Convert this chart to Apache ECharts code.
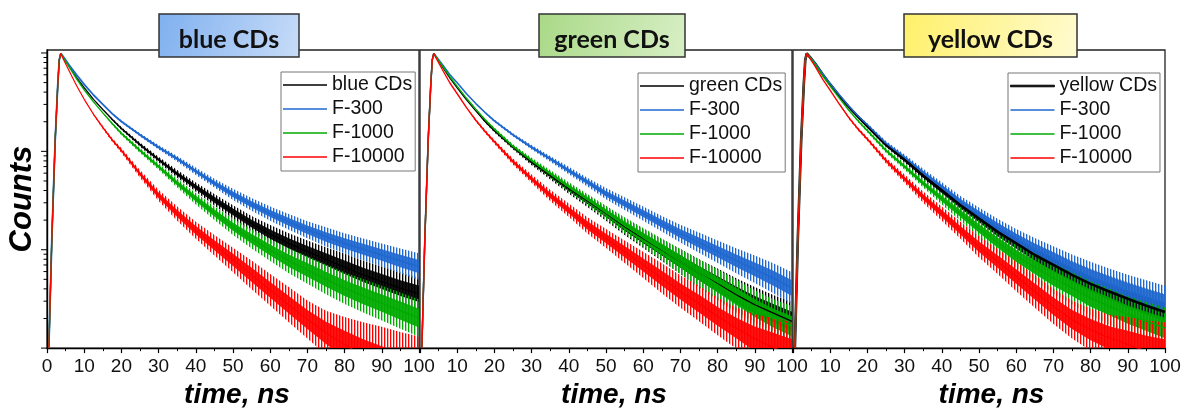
<!DOCTYPE html>
<html><head><meta charset="utf-8">
<script src="https://cdn.jsdelivr.net/npm/echarts@6/dist/echarts.min.js"></script>
<style>html,body{margin:0;padding:0;background:#fff}#c{width:1184px;height:414px}</style>
</head><body><div id="c"></div>
<script>
// time axis (ns)
const time = [0.5,1.3,2.2,2.9,3.3,3.7,4.5,6,8,10,12.5,15,17.5,20,25,30,35,40,45,50,55,60,65,70,75,80,85,90,95,100];
const xTicks = [0,10,20,30,40,50,60,70,80,90,100];

// panel 1: blue CDs (counts)
const p1_ref    = [1,13,130,480,850,990, 890,728,559,443,338,266,212,171,117,82.4,59.0,43.3,32.2,24.2,18.4,14.4,11.6,9.55,7.99,6.63,5.55,4.75,4.07,3.56];
const p1_F300   = [1,13,130,480,850,990, 904,751,595,479,374,301,242,201,147,110,84,62.8,47.5,36.5,28.9,23.3,19.2,16.0,13.5,11.6,10.1,8.84,7.68,6.73];
const p1_F1000  = [1,13,130,480,850,990, 883,717,542,423,318,246,192,152,102,70.0,47.5,33.0,23.6,17.1,12.9,9.93,7.74,6.24,5.01,4.07,3.40,2.87,2.40,2.02];
const p1_F10000 = [1,13,130,480,850,990, 850,653,461,338,238,175,131,102,59.0,35.7,23.3,15.8,11.1,7.87,5.55,3.91,2.76,1.95,1.43,1.09,0.83,0.66,0.52,0.41];
// panel 2: green CDs
const p2_ref    = [1,13,130,480,850,990, 890,728,559,443,333,258,201,162,110,77.5,56.8,41.7,31.3,23.3,17.1,13.0,9.93,7.57,5.77,4.50,3.48,2.76,2.27,1.87];
const p2_F300   = [1,13,130,480,850,990, 904,763,604,498,385,306,248,204,147,110,84,63.8,48.7,37.1,29.4,23.3,18.4,14.6,11.8,9.55,7.74,6.33,5.13,4.07];
const p2_F1000  = [1,13,130,480,850,990, 890,739,577,457,346,268,210,168,112,80.5,59.0,43.3,32.2,23.8,17.7,13.3,10.1,7.57,5.77,4.40,3.35,2.55,2.02,1.67];
const p2_F10000 = [1,13,130,480,850,990, 863,679,498,385,278,207,159,125,78.7,52.6,35.7,25.2,17.7,13.0,9.55,7.00,5.13,3.76,2.83,2.10,1.60,1.24,1.01,0.83];
// panel 3: yellow CDs
const p3_ref    = [1,13,130,480,850,990, 912,775,604,479,365,283,224,180,116,82,56.4,40.1,28.3,20.7,15.2,11.6,8.84,7.00,5.55,4.50,3.76,3.17,2.70,2.33];
const p3_F300   = [1,13,130,480,850,990, 919,787,614,487,374,289,229,186,121,87,60.9,43.3,30.5,22.8,17.1,13.0,10.2,8.17,6.48,5.34,4.50,3.82,3.30,2.87];
const p3_F1000  = [1,13,130,480,850,990, 904,763,586,461,346,262,204,162,102,70.0,47.5,33.0,23.3,16.4,11.8,8.64,6.63,5.13,4.07,3.22,2.66,2.19,1.87,1.60];
const p3_F10000 = [1,13,130,480,850,990, 890,728,538,417,301,220,168,133,80.5,52.6,34.3,23.3,15.8,10.7,7.57,5.34,3.76,2.66,1.95,1.54,1.27,1.09,0.93,0.83];

// noise spread (ratio of upper envelope to curve)
const n1_ref    = [1,1,1,1,1,1,1,1,1,1,1,1,1.025,1.035,1.05,1.07,1.095,1.115,1.145,1.17,1.2,1.24,1.27,1.3,1.33,1.37,1.4,1.42,1.45,1.47];
const n1_F300   = [1,1,1,1,1,1,1,1,1,1,1,1,1.02,1.03,1.04,1.055,1.07,1.09,1.11,1.14,1.16,1.18,1.2,1.22,1.25,1.27,1.29,1.31,1.34,1.37];
const n1_F1000  = [1,1,1,1,1,1,1,1,1,1,1,1,1.03,1.04,1.06,1.08,1.11,1.145,1.175,1.21,1.25,1.29,1.34,1.38,1.42,1.45,1.48,1.5,1.53,1.55];
const n1_F10000 = [1,1,1,1,1,1,1,1,1,1,1.02,1.035,1.045,1.06,1.095,1.14,1.18,1.22,1.27,1.33,1.4,1.45,1.51,1.56,1.68,1.9,2.2,2.5,2.8,3.2];
const n2_ref    = [1,1,1,1,1,1,1,1,1,1,1,1,1.03,1.04,1.055,1.075,1.1,1.125,1.15,1.18,1.21,1.25,1.29,1.34,1.39,1.43,1.47,1.51,1.53,1.57];
const n2_F300   = [1,1,1,1,1,1,1,1,1,1,1,1,1.02,1.03,1.04,1.055,1.07,1.09,1.11,1.14,1.16,1.18,1.2,1.23,1.27,1.3,1.34,1.38,1.42,1.45];
const n2_F1000  = [1,1,1,1,1,1,1,1,1,1,1,1,1.03,1.04,1.055,1.07,1.095,1.12,1.145,1.175,1.21,1.25,1.29,1.34,1.39,1.43,1.48,1.52,1.55,1.6];
const n2_F10000 = [1,1,1,1,1,1,1,1,1,1,1,1.03,1.04,1.05,1.075,1.105,1.14,1.17,1.21,1.25,1.3,1.36,1.42,1.46,1.51,1.55,1.62,1.78,2.0,2.2];
const n3_ref    = [1,1,1,1,1,1,1,1,1,1,1,1,1.025,1.035,1.05,1.07,1.1,1.13,1.16,1.19,1.23,1.27,1.31,1.36,1.4,1.43,1.46,1.49,1.51,1.53];
const n3_F300   = [1,1,1,1,1,1,1,1,1,1,1,1,1.02,1.035,1.05,1.065,1.09,1.12,1.15,1.18,1.21,1.25,1.29,1.33,1.38,1.41,1.43,1.46,1.48,1.5];
const n3_F1000  = [1,1,1,1,1,1,1,1,1,1,1,1,1.03,1.04,1.06,1.08,1.11,1.145,1.18,1.22,1.27,1.32,1.37,1.42,1.45,1.49,1.52,1.54,1.57,1.62];
const n3_F10000 = [1,1,1,1,1,1,1,1,1,1,1,1.03,1.04,1.045,1.07,1.105,1.14,1.18,1.22,1.28,1.34,1.41,1.46,1.51,1.56,1.64,1.72,1.9,2.05,2.2];

const yMajorTicks = [1,10,100,1000];
const yMinorTicks = [2,3,4,5,6,7,8,9,20,30,40,50,60,70,80,90,200,300,400,500,600,700,800,900];

const titles = ['blue CDs','green CDs','yellow CDs'];
const seriesNames = [
  ['blue CDs','F-300','F-1000','F-10000'],
  ['green CDs','F-300','F-1000','F-10000'],
  ['yellow CDs','F-300','F-1000','F-10000']
];
const panelValues = [[p1_ref,p1_F300,p1_F1000,p1_F10000],[p2_ref,p2_F300,p2_F1000,p2_F10000],[p3_ref,p3_F300,p3_F1000,p3_F10000]];
const panelNoise  = [[n1_ref,n1_F300,n1_F1000,n1_F10000],[n2_ref,n2_F300,n2_F1000,n2_F10000],[n3_ref,n3_F300,n3_F1000,n3_F10000]];

const colors = ['#000000','#1f68cf','#00aa00','#ff0000'];
const lineWidths = [[1.3,1.8,1.4,1.2],[1.3,1.6,1.4,1.4],[2.6,1.4,1.4,1.4]];

const gridLefts = [47,420,793];
const FONT = 'Liberation Sans, Arial, sans-serif';

// fine vertical hatch used to suggest the spiky photon-counting noise
function noisePattern(color) {
  const c = document.createElement('canvas');
  c.width = 3; c.height = 1;
  const ctx = c.getContext('2d');
  ctx.fillStyle = color;
  ctx.fillRect(0, 0, 1, 1);
  ctx.globalAlpha = 0.35;
  ctx.fillRect(1, 0, 1, 1);
  return {image: c, repeat: 'repeat'};
}

function bandSeries(gi, vals, noise, color, inner) {
  const data = time.map((t, i) => {
    const r = inner ? Math.pow(noise[i], 0.5) : noise[i];
    return [t, vals[i] / r, vals[i] * r];
  });
  const fill = inner ? color : noisePattern(color);
  return {
    type: 'custom', xAxisIndex: gi, yAxisIndex: gi, clip: true, silent: true,
    encode: {x: 0, y: [1, 2]},
    data: data,
    renderItem: function (params, api) {
      if (params.dataIndexInside !== 0) return null;
      const n = params.dataInsideLength;
      const up = [], lo = [];
      for (let j = 0; j < n; j++) {
        const t = api.value(0, j);
        up.push(api.coord([t, api.value(2, j)]));
        lo.push(api.coord([t, api.value(1, j)]));
      }
      return {type: 'polygon', shape: {points: up.concat(lo.reverse())},
              style: {fill: fill, opacity: inner ? 0.92 : 1}};
    }
  };
}

const grids = [], xAxes = [], yAxes = [], series = [], legends = [];
for (let gi = 0; gi < 3; gi++) {
  grids.push({left: gridLefts[gi], top: 50, width: 372, height: 300, show: true,
              borderColor: '#222', borderWidth: 1.3, backgroundColor: 'transparent'});
  const namePad = [[0,0,0,8],[0,0,0,16],[0,0,0,25]][gi];
  xAxes.push({gridIndex: gi, type: 'value', min: 0, max: 100, interval: 10,
    axisLine: {show: true, onZero: false, lineStyle: {color: '#000', width: 1.4}},
    axisTick: {show: true, inside: false, length: 5, lineStyle: {color: '#000', width: 1.2}},
    minorTick: {show: true, splitNumber: 2, length: 3, lineStyle: {color: '#000', width: 1}},
    splitLine: {show: false},
    axisLabel: {fontSize: 19, color: '#111', fontFamily: FONT, margin: 9, showMinLabel: gi === 0,
                customValues: xTicks},
    name: 'time, ns', nameLocation: 'middle', nameGap: 32,
    nameTextStyle: {fontSize: 28, fontWeight: 'bold', fontStyle: 'italic', fontFamily: FONT, color: '#000', padding: namePad}
  });
  yAxes.push({gridIndex: gi, type: 'log', logBase: 10, min: 1, max: 1072,
    axisLine: {show: gi === 0, lineStyle: {color: '#000', width: 1.4}},
    axisTick: {show: false}, axisLabel: {show: false}, splitLine: {show: false}, minorTick: {show: false},
    name: gi === 0 ? 'Counts' : '', nameLocation: 'middle', nameGap: 9, nameRotate: 90,
    nameTextStyle: {fontSize: 31, fontWeight: 'bold', fontStyle: 'italic', fontFamily: FONT, color: '#000'}
  });
  for (let k = 0; k < 4; k++) {
    const vals = panelValues[gi][k], noise = panelNoise[gi][k];
    series.push(bandSeries(gi, vals, noise, colors[k], false));
    series.push(bandSeries(gi, vals, noise, colors[k], true));
    series.push({type: 'line', name: seriesNames[gi][k], xAxisIndex: gi, yAxisIndex: gi,
      data: time.map((t, i) => [t, vals[i]]), symbol: 'none', showSymbol: false,
      color: colors[k], lineStyle: {color: colors[k], width: lineWidths[gi][k]}, clip: true, silent: true});
  }
  legends.push({
    orient: 'vertical', left: [281, 638, 1008][gi], top: [72, 73, 73][gi],
    itemWidth: 44, itemHeight: 1.6, itemGap: 4, icon: 'rect',
    padding: [3, 3, 4, 2], borderColor: '#777', borderWidth: 1, backgroundColor: '#fff',
    selectedMode: false,
    itemStyle: {borderWidth: 0},
    textStyle: {fontFamily: FONT, fontSize: 19.5, color: '#111', lineHeight: 20},
    data: seriesNames[gi].map((n, k) => (gi === 2 && k === 0)
      ? {name: n, itemStyle: {borderWidth: 0.9, borderColor: '#000'}}
      : {name: n})
  });
}

// y ticks for the first panel (log minor ticks), placed through the axis scale
series.push({
  type: 'custom', xAxisIndex: 0, yAxisIndex: 0, clip: false, silent: true,
  encode: {x: 0, y: 1},
  data: yMajorTicks.concat(yMinorTicks).map(v => [0, v]),
  renderItem: function (params, api) {
    const v = api.value(1);
    const major = yMajorTicks.indexOf(v) >= 0;
    const p = api.coord([0, v]);
    return {type: 'line', shape: {x1: p[0] - (major ? 6 : 3.5), y1: p[1], x2: p[0], y2: p[1]},
            style: {stroke: '#000', lineWidth: 1}};
  }
});

function titleBox(x, w, text, c1, c2) {
  return {type: 'group', z: 100, children: [
    {type: 'rect', shape: {x: x, y: 14, width: w, height: 43},
     style: {fill: {type: 'linear', x: 0, y: 0, x2: 1, y2: 1, colorStops: [{offset: 0, color: c1}, {offset: 1, color: c2}]},
             stroke: '#333', lineWidth: 1.5}},
    {type: 'text', x: x + w / 2, y: 40,
     style: {text: text, font: 'bold 25px Lato, "Open Sans", sans-serif', fill: '#111',
             align: 'center', verticalAlign: 'middle', textAlign: 'center', textVerticalAlign: 'middle'}}
  ]};
}

const chart = echarts.init(document.getElementById('c'), null, {renderer: 'canvas'});
chart.setOption({
  animation: false,
  backgroundColor: '#fff',
  grid: grids, xAxis: xAxes, yAxis: yAxes, series: series, legend: legends,
  graphic: [
    titleBox(159, 140, titles[0], '#7fb0ef', '#c8dcf8'),
    titleBox(539, 146, titles[1], '#a9d987', '#d8efc6'),
    titleBox(904, 173, titles[2], '#fff06a', '#fffbd0')
  ]
});
</script></body></html>
